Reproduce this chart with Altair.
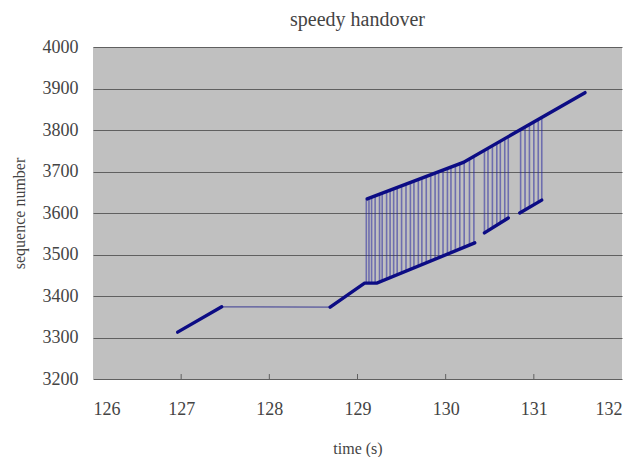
import altair as alt
import pandas as pd

# thick runs of packets (time s, sequence number)
thick_seg = ["a", "a", "b", "b", "b", "b", "u", "u", "u", "c", "c", "d", "d"]
thick_t = [126.96, 127.46, 128.69, 129.08, 129.22, 130.33, 129.11, 130.20, 131.58, 130.44, 130.71, 130.84, 131.09]
thick_s = [3313, 3374, 3373, 3431, 3431, 3528, 3634, 3722, 3890, 3552, 3588, 3600, 3631]

# thin connecting line during handover gap
thin_t = [127.46, 128.69]
thin_s = [3374, 3373]

# retransmission jumps (time, low seq, high seq)
jump_t = [129.10, 129.13, 129.16, 129.20, 129.25, 129.28, 129.33, 129.37, 129.41, 129.45,
          129.50, 129.55, 129.60, 129.64, 129.69, 129.73, 129.78, 129.83, 129.88, 129.92,
          129.97, 130.02, 130.06, 130.11, 130.16, 130.21, 130.27, 130.32,
          130.44, 130.48, 130.53, 130.58, 130.62, 130.67, 130.71,
          130.85, 130.90, 130.95, 131.00, 131.05, 131.09]
jump_lo = [3431, 3431, 3431, 3431, 3434, 3436, 3441, 3444, 3448, 3451,
           3456, 3460, 3464, 3468, 3472, 3476, 3480, 3484, 3489, 3492,
           3497, 3501, 3505, 3509, 3513, 3518, 3523, 3527,
           3552, 3557, 3564, 3571, 3576, 3583, 3588,
           3601, 3607, 3613, 3619, 3626, 3631]
jump_hi = [3633, 3636, 3638, 3641, 3645, 3648, 3652, 3655, 3658, 3661,
           3665, 3670, 3674, 3677, 3681, 3684, 3688, 3692, 3696, 3699,
           3703, 3707, 3711, 3715, 3719, 3723, 3730, 3736,
           3751, 3756, 3762, 3768, 3772, 3778, 3783,
           3799, 3805, 3811, 3817, 3823, 3827]

x_ticks = [127, 128, 129, 130, 131]
tick_base = 3200
tick_top = 3212

FONT = "Liberation Serif"
NAVY = "#0c0c84"

xscale = alt.Scale(domain=[126, 132], nice=False, zero=False)
yscale = alt.Scale(domain=[3200, 4000], nice=False, zero=False)

xaxis = alt.Axis(values=[126, 127, 128, 129, 130, 131, 132], format="d", grid=False,
                 domain=False, ticks=False, labelPadding=21, title="time (s)",
                 titlePadding=22)
yaxis = alt.Axis(values=list(range(3200, 4001, 100)), format="d", grid=True,
                 gridColor="#606060", gridWidth=1, domain=False, ticks=False,
                 labelPadding=15, title="sequence number", titlePadding=15)

thick_df = pd.DataFrame({"seg": thick_seg, "t": thick_t, "s": thick_s})
thin_df = pd.DataFrame({"t": thin_t, "s": thin_s})
jump_df = pd.DataFrame({"t": jump_t, "lo": jump_lo, "hi": jump_hi})
tick_df = pd.DataFrame({"t": x_ticks, "b": [tick_base] * len(x_ticks), "h": [tick_top] * len(x_ticks)})

jumps = alt.Chart(jump_df).mark_rule(color="#2a2aa0", strokeWidth=1.6, opacity=0.55).encode(
    x=alt.X("t:Q", scale=xscale, axis=xaxis),
    y=alt.Y("lo:Q", scale=yscale, axis=yaxis),
    y2="hi:Q",
)

thin = alt.Chart(thin_df).mark_line(color=NAVY, strokeWidth=1.3, opacity=0.6).encode(
    x=alt.X("t:Q", scale=xscale),
    y=alt.Y("s:Q", scale=yscale),
)

thick = alt.Chart(thick_df).mark_line(color=NAVY, strokeWidth=3.4, strokeCap="round").encode(
    x=alt.X("t:Q", scale=xscale),
    y=alt.Y("s:Q", scale=yscale),
    detail="seg:N",
    order="t:Q",
)

ticks = alt.Chart(tick_df).mark_rule(color="#606060", strokeWidth=1).encode(
    x=alt.X("t:Q", scale=xscale),
    y=alt.Y("b:Q", scale=yscale),
    y2="h:Q",
)

chart = alt.layer(jumps, thin, thick, ticks).properties(
    width=529,
    height=332,
    title=alt.TitleParams("speedy handover", font=FONT, fontSize=20, fontWeight="normal",
                          color="#444444", offset=8),
    autosize=alt.AutoSizeParams(type="none"),
    padding={"left": 85, "top": 39, "right": 7, "bottom": 78},
    background="white",
).configure_view(
    fill="#c0c0c0", stroke=None,
).configure_title(
    font=FONT, fontSize=20, fontWeight="normal", color="#444444",
).configure_axis(
    labelFont=FONT, labelFontSize=18, labelColor="#444444",
    titleFont=FONT, titleFontSize=16, titleColor="#444444", titleFontWeight="normal",
)

chart.save("out.html", embed_options={"renderer": "svg", "actions": False})
